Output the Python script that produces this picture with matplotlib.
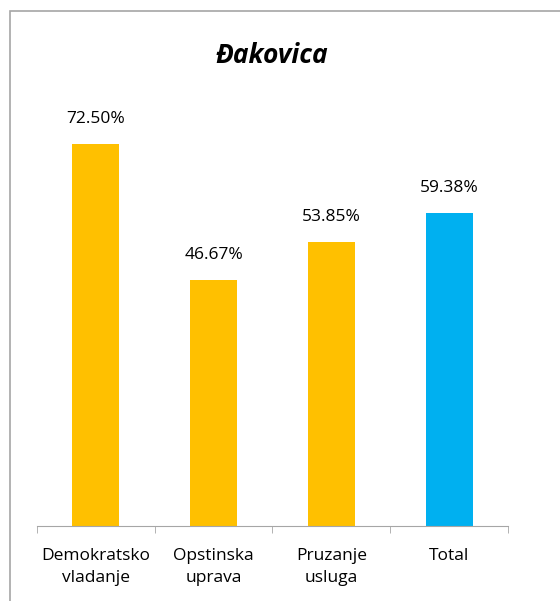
import matplotlib.pyplot as plt
from matplotlib.patches import Rectangle

# chart data
categories = ["Demokratsko\nvladanje", "Opstinska\nuprava", "Pruzanje\nusluga", "Total"]
values = [72.50, 46.67, 53.85, 59.38]
bar_colors = ["#FFC000", "#FFC000", "#FFC000", "#00B0F0"]
title = "Đakovica"

plt.rcParams['font.family'] = ['Open Sans', 'DejaVu Sans']

fig = plt.figure(figsize=(5.6, 6.01), dpi=100)
ax = fig.add_axes([0.066, 0.125, 0.841, 0.702])

x = list(range(len(categories)))
ax.bar(x, values, width=0.4, color=bar_colors)
for xi, v in zip(x, values):
    ax.text(xi, v + 3.2, "%.2f%%" % v, ha='center', va='bottom', fontsize=12.5)

ax.set_xlim(-0.5, len(categories) - 0.5)
ax.set_ylim(0, 80)
ax.set_yticks([])
for s in ['top', 'right', 'left']:
    ax.spines[s].set_visible(False)
ax.spines['bottom'].set_color('#A6A6A6')
ax.set_xticks(x)
ax.set_xticklabels(categories, fontsize=12.5, linespacing=1.5)
ax.tick_params(axis='x', length=0, pad=16)
ax.set_xticks([i - 0.5 for i in range(len(categories) + 1)], minor=True)
ax.tick_params(axis='x', which='minor', length=5, color='#A6A6A6')

fig.text(0.485, 0.907, title, ha='center', va='center', fontsize=19,
         fontweight='bold', fontstyle='italic')

# chart border
fig.patches.append(Rectangle((10 / 560, -0.1), 1.0, 1.1 - 11 / 601,
                             transform=fig.transFigure, fill=False,
                             edgecolor='#A6A6A6', linewidth=1.2))

plt.savefig("out.png", dpi=100)
